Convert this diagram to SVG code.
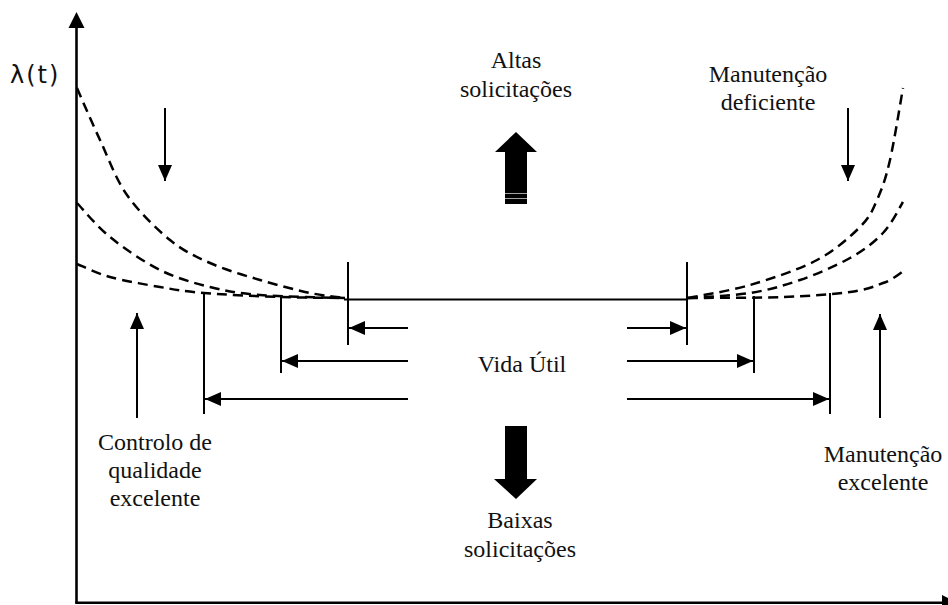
<svg xmlns="http://www.w3.org/2000/svg" width="948" height="605" viewBox="0 0 948 605">
  <defs>
    <marker id="head" viewBox="0 0 16 14" refX="16" refY="7" markerWidth="16" markerHeight="14" markerUnits="userSpaceOnUse" orient="auto">
      <path d="M0,0 L16,7 L0,14 Z" fill="#000"/>
    </marker>
  </defs>
  <style>
    .axis { stroke: #000; stroke-width: 2.6; fill: none; }
    .curve { stroke: #000; stroke-width: 2.5; fill: none; stroke-dasharray: 10 6; }
    .solid { stroke: #000; stroke-width: 2; fill: none; }
    .arrow { stroke: #000; stroke-width: 2; fill: none; marker-end: url(#head); }
    .lbl { font-family: "Liberation Serif", "Times New Roman", serif; font-size: 24px; fill: #111; text-anchor: middle; }
    .sans { font-family: "DejaVu Sans", "Liberation Sans", sans-serif; font-size: 24px; fill: #111; letter-spacing: 2px; }
    .big { fill: #000; }
  </style>

  <!-- axes -->
  <g id="axes">
    <line class="axis" x1="76.5" y1="26" x2="76.5" y2="603"/>
    <path d="M76.5,12 L84.5,28 L68.5,28 Z" fill="#000"/>
    <line class="axis" x1="75.2" y1="602.8" x2="945" y2="602.8"/>
    <path d="M942,595 L958,603 L942,611 Z" fill="#000"/>
    <text class="sans" x="10" y="83">λ(t)</text>
  </g>

  <!-- failure-rate curves: infant mortality (left) and wear-out (right) -->
  <g id="curves">
    <path class="curve" d="M77,88 C80.8,96.7 91.7,122.2 100,140 C108.3,157.8 115.3,178.3 127,195 C138.7,211.7 156.2,228.7 170,240 C183.8,251.3 195,256.3 210,263 C225,269.7 243.3,275 260,280 C276.7,285 295.8,290 310,293 C324.2,296 339.2,297.2 345,298"/>
    <path class="curve" d="M77,203 C82.5,208.7 96.2,225.8 110,237 C123.8,248.2 143.3,261.7 160,270 C176.7,278.3 193.3,282.8 210,287 C226.7,291.2 237.5,293.2 260,295 C282.5,296.8 330.8,297.5 345,298"/>
    <path class="curve" d="M77,264 C82.5,266.2 96.2,273.2 110,277 C123.8,280.8 144.3,284.3 160,287 C175.7,289.7 183.8,291.3 204,293 C224.2,294.7 257.5,296.2 281,297 C304.5,297.8 334.3,297.8 345,298"/>
    <path class="curve" d="M688,298 C698.3,295.8 728.5,291.3 750,285 C771.5,278.7 798.7,269.7 817,260 C835.3,250.3 850,237 860,227 C870,217 872,211.2 877,200 C882,188.8 885.7,178.7 890,160 C894.3,141.3 900.8,100 903,88"/>
    <path class="curve" d="M688,298 C698.3,297.2 731.3,296 750,293 C768.7,290 783.3,285.8 800,280 C816.7,274.2 836.2,265.8 850,258 C863.8,250.2 874.2,242.3 883,233 C891.8,223.7 899.7,207.2 903,202"/>
    <path class="curve" d="M688,298 C703.8,297.8 756,298 783,297 C810,296 833.3,294.3 850,292 C866.7,289.7 873.8,286.7 883,283 C892.2,280.3 901.3,272.2 905,270"/>
  </g>

  <!-- useful-life plateau and its limits -->
  <g id="useful-life">
    <line class="solid" x1="344" y1="299.5" x2="688" y2="299.5"/>
    <line class="solid" x1="348" y1="262" x2="348" y2="345"/>
    <line class="solid" x1="281" y1="297" x2="281" y2="373"/>
    <line class="solid" x1="204" y1="292" x2="204" y2="414"/>
    <line class="solid" x1="687" y1="262" x2="687" y2="345"/>
    <line class="solid" x1="754" y1="296" x2="754" y2="373"/>
    <line class="solid" x1="830" y1="293" x2="830" y2="414"/>
    <text class="lbl" x="522" y="372" font-size="26">Vida Útil</text>
  </g>

  <!-- connectors -->
  <g id="connectors">
    <line class="arrow" x1="408" y1="328" x2="349" y2="328"/>
    <line class="arrow" x1="408" y1="361" x2="282" y2="361"/>
    <line class="arrow" x1="408" y1="399" x2="205" y2="399"/>
    <line class="arrow" x1="627" y1="328" x2="686" y2="328"/>
    <line class="arrow" x1="627" y1="361" x2="753" y2="361"/>
    <line class="arrow" x1="627" y1="399" x2="829" y2="399"/>
    <line class="arrow" x1="165" y1="108" x2="165" y2="181"/>
    <line class="arrow" x1="848" y1="108" x2="848" y2="181"/>
    <line class="arrow" x1="137" y1="418" x2="137" y2="313"/>
    <line class="arrow" x1="880" y1="418" x2="880" y2="314"/>
  </g>

  <!-- high stress -->
  <g id="altas">
    <path class="big" d="M516,132 L537,152 L527,152 L527,204 L505,204 L505,152 L495,152 Z"/>
    <line x1="505" y1="193.5" x2="527" y2="193.5" stroke="#fff" stroke-width="0.9" opacity="0.7"/>
    <line x1="505" y1="198.5" x2="527" y2="198.5" stroke="#fff" stroke-width="0.9" opacity="0.7"/>
    <text class="lbl" x="516" y="68">Altas</text>
    <text class="lbl" x="516" y="97">solicitações</text>
  </g>

  <!-- low stress -->
  <g id="baixas">
    <path class="big" d="M505,426 L527,426 L527,479 L537,479 L516,499 L494,479 L505,479 Z"/>
    <text class="lbl" x="520" y="528">Baixas</text>
    <text class="lbl" x="520" y="557">solicitações</text>
  </g>

  <g id="controlo">
    <text class="lbl" x="155" y="450">Controlo de</text>
    <text class="lbl" x="155" y="478">qualidade</text>
    <text class="lbl" x="155" y="506">excelente</text>
  </g>

  <g id="manutencao-deficiente">
    <text class="lbl" x="768" y="82">Manutenção</text>
    <text class="lbl" x="768" y="110">deficiente</text>
  </g>

  <g id="manutencao-excelente">
    <text class="lbl" x="883" y="462">Manutenção</text>
    <text class="lbl" x="883" y="490">excelente</text>
  </g>
</svg>
